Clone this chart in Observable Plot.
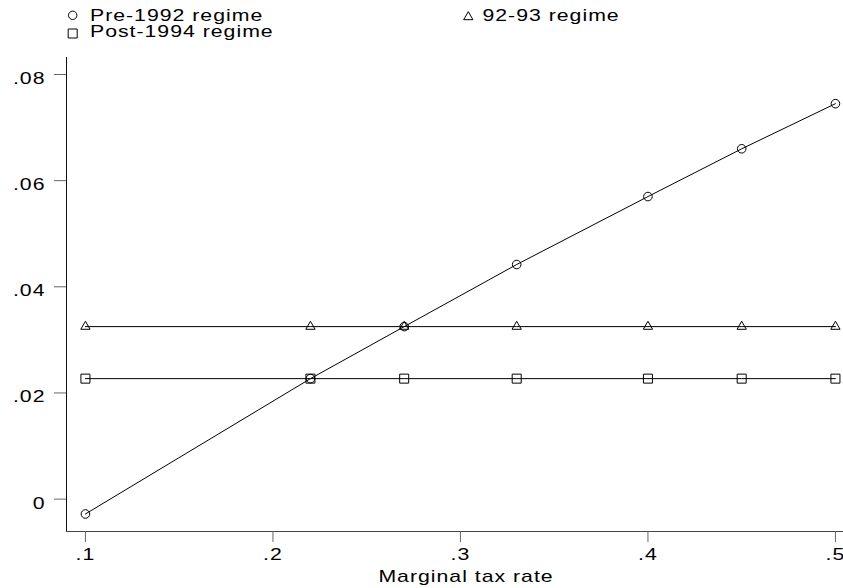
<!DOCTYPE html>
<html>
<head>
<meta charset="utf-8">
<script src="https://cdn.jsdelivr.net/npm/d3@7"></script>
<script src="https://cdn.jsdelivr.net/npm/@observablehq/plot@0.6"></script>
<style>
  html, body { margin: 0; padding: 0; background: white; }
  #chart { width: 843px; }
  svg { display: block; }
</style>
</head>
<body>
<div id="chart"></div>
<script>
// ---- Data ----
const seriesNames = ["Pre-1992 regime", "92-93 regime", "Post-1994 regime"];
const taxRates = [0.1, 0.22, 0.27, 0.33, 0.4, 0.45, 0.5];
const pre1992 = [-0.0028, 0.0227, 0.0325, 0.0442, 0.0570, 0.0660, 0.0745];
const regime9293 = [0.0325, 0.0325, 0.0325, 0.0325, 0.0325, 0.0325, 0.0325];
const post1994 = [0.0227, 0.0227, 0.0227, 0.0227, 0.0227, 0.0227, 0.0227];
const xTicks = [0.1, 0.2, 0.3, 0.4, 0.5];
const yTicks = [0, 0.02, 0.04, 0.06, 0.08];
const xTitle = "Marginal tax rate";
const xDomain = [0.0899, 0.5043];
const yDomain = [-0.0061, 0.0832];

// ---- Build table ----
const seriesValues = [pre1992, regime9293, post1994];
const rows = [];
seriesNames.forEach((name, i) => {
  taxRates.forEach((x, j) => rows.push({series: name, x, y: seriesValues[i][j]}));
});

const fmt = d => d === 0 ? "0" : String(d).replace(/^(-?)0\./, "$1.");
const FONT = "'Liberation Sans', Arial, Helvetica, sans-serif";
const STRETCH = 1.25;
const LS = "0.8px";

// ---- Legend (above the plot) ----
const symDefs = [
  {name: seriesNames[0], kind: "circle", x: 72.7, y: 15.3, tx: 90, ty: 21},
  {name: seriesNames[1], kind: "triangle", x: 468.3, y: 17, tx: 482.5, ty: 21},
  {name: seriesNames[2], kind: "square", x: 72.7, y: 33.5, tx: 90, ty: 37.5}
];
const legend = d3.create("svg")
  .attr("width", 843).attr("height", 45)
  .style("font-family", FONT).style("font-size", "17px").style("letter-spacing", LS);
for (const s of symDefs) {
  if (s.kind === "circle") {
    legend.append("circle").attr("cx", s.x).attr("cy", s.y).attr("r", 4.2)
      .attr("fill", "none").attr("stroke", "black").attr("stroke-width", 1);
  } else {
    const size = s.kind === "square" ? 81 : Math.PI * 3.45 * 3.45;
    const type = s.kind === "square" ? d3.symbolSquare : d3.symbolTriangle;
    legend.append("path").attr("d", d3.symbol(type, size)())
      .attr("transform", `translate(${s.x},${s.y})`)
      .attr("fill", "none").attr("stroke", "black").attr("stroke-width", 1);
  }
  legend.append("text").attr("x", s.tx).attr("y", s.ty).attr("fill", "black")
    .attr("transform", `translate(${s.tx},0) scale(${STRETCH},1) translate(${-s.tx},0)`)
    .text(s.name);
}
document.getElementById("chart").append(legend.node());

// ---- Plot ----
const markSpec = [
  {name: seriesNames[0], symbol: "circle", r: 4.3},
  {name: seriesNames[1], symbol: "triangle", r: 3.45},
  {name: seriesNames[2], symbol: "square", r: 5.08}
];

const plot = Plot.plot({
  width: 843,
  height: 543,
  marginLeft: 66,
  marginRight: 0,
  marginTop: 12,
  marginBottom: 57,
  style: {fontFamily: FONT, fontSize: "17px", background: "white", overflow: "visible", letterSpacing: LS},
  x: {domain: xDomain, label: null},
  y: {domain: yDomain, label: null},
  marks: [
    Plot.ruleX([xDomain[0]], {stroke: "#111", strokeWidth: 1}),
    Plot.ruleY([yDomain[0]], {stroke: "#444", strokeWidth: 1}),
    Plot.axisY({ticks: yTicks, tickSize: 12, stroke: "#666", fill: "none", label: null}),
    Plot.axisY({ticks: yTicks, tickSize: 0, tickPadding: 21, dy: 4, tickFormat: fmt,
                fill: "black", fontSize: 17, label: null}),
    Plot.axisX({ticks: xTicks, tickSize: 11, tickPadding: 5, tickFormat: fmt,
                stroke: "#666", fill: "black", fontSize: 17, label: null}),
    Plot.line(rows, {x: "x", y: "y", z: "series", stroke: "black", strokeWidth: 1}),
    ...markSpec.map(m => Plot.dot(rows, {
      filter: d => d.series === m.name,
      x: "x", y: "y", symbol: m.symbol, r: m.r,
      stroke: "black", fill: "none", strokeWidth: 1
    })),
    Plot.text([xTitle], {text: d => d, frameAnchor: "bottom", dy: 50, dx: 11,
                         fontSize: 17, fill: "black"})
  ]
});

// horizontally stretch all text (reference glyphs are wide)
plot.querySelectorAll("text").forEach(t => {
  const x = +(t.getAttribute("x") || 0);
  const tr = t.getAttribute("transform") || "";
  t.setAttribute("transform", `${tr} translate(${x},0) scale(${STRETCH},1) translate(${-x},0)`.trim());
});

document.getElementById("chart").append(plot);
</script>
</body>
</html>
